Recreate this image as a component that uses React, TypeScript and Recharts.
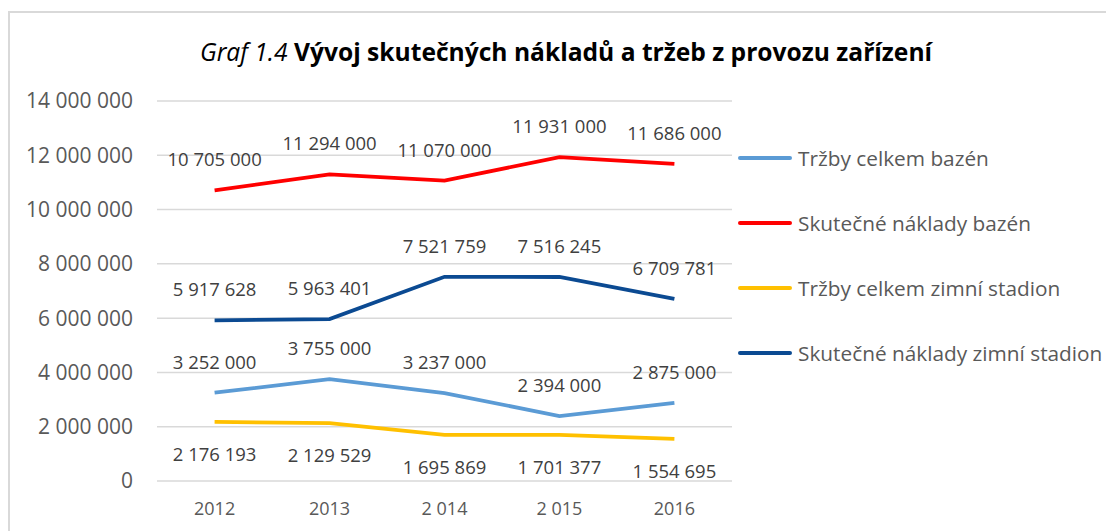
import { LineChart, Line, XAxis, YAxis, CartesianGrid, Legend, LabelList } from "recharts";

const years = ["2012", "2013", "2 014", "2 015", "2016"];
const trzbyBazen = [3252000, 3755000, 3237000, 2394000, 2875000];
const nakladyBazen = [10705000, 11294000, 11070000, 11931000, 11686000];
const trzbyStadion = [2176193, 2129529, 1695869, 1701377, 1554695];
const nakladyStadion = [5917628, 5963401, 7521759, 7516245, 6709781];
const yTicks = [0, 2000000, 4000000, 6000000, 8000000, 10000000, 12000000, 14000000];

const FONT = "'Open Sans', sans-serif";

const series = [
  { key: "tb", name: "Tržby celkem bazén", color: "#5B9BD5", values: trzbyBazen, pos: "top" },
  { key: "nb", name: "Skutečné náklady bazén", color: "#FF0000", values: nakladyBazen, pos: "top" },
  { key: "ts", name: "Tržby celkem zimní stadion", color: "#FFC000", values: trzbyStadion, pos: "bottom" },
  { key: "ns", name: "Skutečné náklady zimní stadion", color: "#0B4A92", values: nakladyStadion, pos: "top" },
];

const data = years.map((year, i) => {
  const row: any = { year };
  series.forEach((s) => (row[s.key] = s.values[i]));
  return row;
});

const fmt = (v: any) => String(v).replace(/\B(?=(\d{3})+(?!\d))/g, " ");

function LegendList({ payload }: any) {
  // keep the series order instead of the alphabetical one
  const items = series
    .map((s) => (payload || []).find((p: any) => p.dataKey === s.key))
    .filter(Boolean);
  return (
    <div>
      {items.map((p: any) => (
        <div key={p.value} style={{ height: 65, display: "flex", alignItems: "center" }}>
          <div style={{ width: 54, height: 4, borderRadius: 2, background: p.color, marginRight: 6 }} />
          <span style={{ fontFamily: FONT, fontSize: 20.8, color: "#595959", whiteSpace: "nowrap" }}>{p.value}</span>
        </div>
      ))}
    </div>
  );
}

export default function App() {
  return (
    <div
      style={{
        position: "absolute",
        left: 8,
        top: 11,
        width: 1098,
        height: 520,
        borderTop: "2px solid #D9D9D9",
        borderLeft: "2px solid #D9D9D9",
        background: "#fff",
      }}
    >
      <div
        style={{
          position: "absolute",
          left: 556,
          top: 25,
          transform: "translateX(-50%)",
          whiteSpace: "nowrap",
          fontFamily: FONT,
          fontSize: 24.6,
          lineHeight: "28px",
          color: "#000",
        }}
      >
        <i>Graf 1.4</i> <b>Vývoj skutečných nákladů a tržeb z provozu zařízení</b>
      </div>
      <LineChart width={1096} height={518} data={data} margin={{ top: 88, right: 374, left: 17, bottom: 20 }}>
        <CartesianGrid vertical={false} stroke="#D9D9D9" strokeWidth={1.5} />
        <XAxis
          dataKey="year"
          axisLine={false}
          tickLine={false}
          tickSize={0}
          tickMargin={21}
          height={30}
          padding={{ left: 57.6, right: 57.6 }}
          tick={{ fill: "#595959", fontSize: 18, fontFamily: FONT }}
        />
        <YAxis
          domain={[0, 14000000]}
          ticks={yTicks}
          interval={0}
          axisLine={false}
          tickLine={false}
          tickSize={0}
          tickMargin={24}
          width={130}
          tickFormatter={fmt}
          tick={{ fill: "#595959", fontSize: 21, fontFamily: FONT }}
        />
        <Legend
          layout="vertical"
          verticalAlign="middle"
          align="center"
          content={<LegendList />}
          wrapperStyle={{ left: 728, top: 112, width: 370 }}
        />
        {series.map((s) => (
          <Line
            key={s.key}
            dataKey={s.key}
            name={s.name}
            stroke={s.color}
            strokeWidth={3.8}
            dot={false}
            activeDot={false}
            isAnimationActive={false}
          >
            <LabelList
              dataKey={s.key}
              position={s.pos as any}
              offset={s.pos === "top" ? 24 : 26}
              formatter={fmt}
              fill="#404040"
              fontSize={18.5}
              fontFamily={FONT}
            />
          </Line>
        ))}
      </LineChart>
    </div>
  );
}
